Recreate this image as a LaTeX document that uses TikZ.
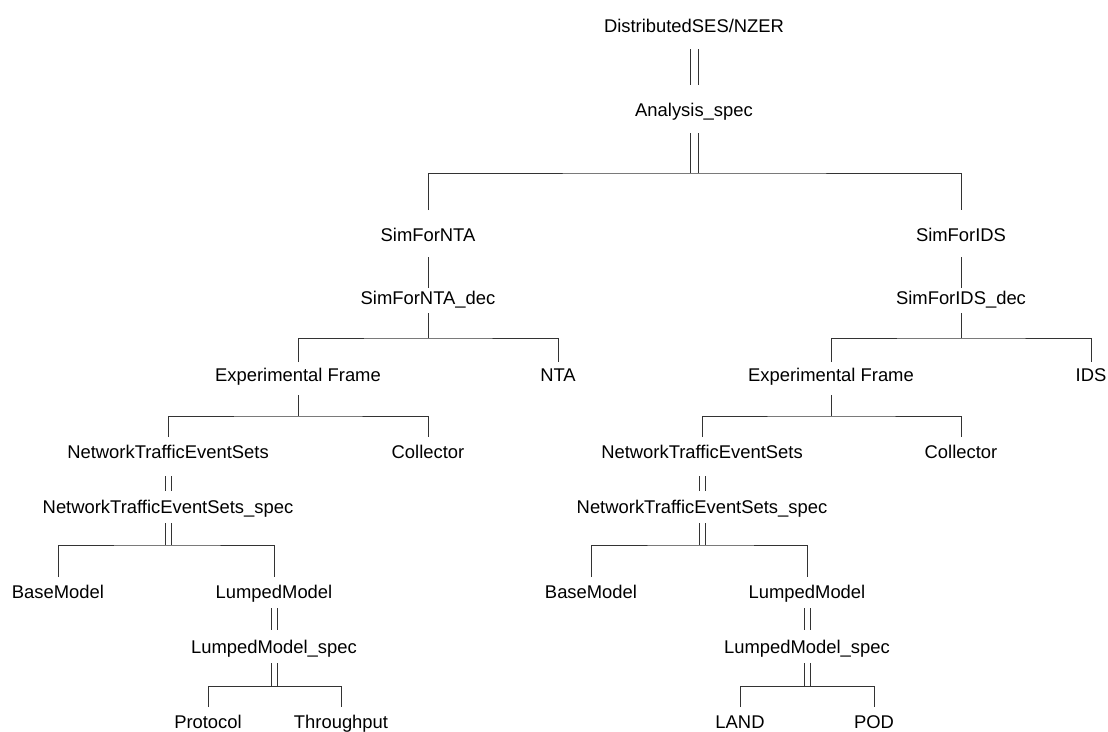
\documentclass[tikz,border=0pt]{standalone}
\usepackage{fontspec}
\setmainfont{Liberation Sans}
\begin{document}
\begin{tikzpicture}[x=1pt,y=-1pt,
  lbl/.style={inner sep=0pt, text height=13.2pt, text depth=0pt, font=\fontsize{18.4}{20}\selectfont},
  wire/.style={draw=black!80, line width=1pt},
  dbl/.style={draw=black!80, line width=1pt}]
\useasboundingbox (0,0) rectangle (1108,731);

% ---- nodes ----
\node[lbl] (root) at (694,26) {DistributedSES/NZER};
\node[lbl] (aspec) at (694,110) {Analysis\_spec};
% left branch
\node[lbl] (snta) at (428,235) {SimForNTA};
\node[lbl] (sntad) at (428,298) {SimForNTA\_dec};
\node[lbl] (efL) at (298,375) {Experimental Frame};
\node[lbl] (nta) at (558,375) {NTA};
\node[lbl] (ntesL) at (168,452) {NetworkTrafficEventSets};
\node[lbl] (colL) at (428,452) {Collector};
\node[lbl] (ntessL) at (168,507) {NetworkTrafficEventSets\_spec};
\node[lbl] (bmL) at (58,592) {BaseModel};
\node[lbl] (lmL) at (274,592) {LumpedModel};
\node[lbl] (lmsL) at (274,647) {LumpedModel\_spec};
\node[lbl] (proto) at (208,722) {Protocol};
\node[lbl] (thru) at (341,722) {Throughput};
% right branch
\node[lbl] (sids) at (961,235) {SimForIDS};
\node[lbl] (sidsd) at (961,298) {SimForIDS\_dec};
\node[lbl] (efR) at (831,375) {Experimental Frame};
\node[lbl] (ids) at (1091,375) {IDS};
\node[lbl] (ntesR) at (702,452) {NetworkTrafficEventSets};
\node[lbl] (colR) at (961,452) {Collector};
\node[lbl] (ntessR) at (702,507) {NetworkTrafficEventSets\_spec};
\node[lbl] (bmR) at (591,592) {BaseModel};
\node[lbl] (lmR) at (807,592) {LumpedModel};
\node[lbl] (lmsR) at (807,647) {LumpedModel\_spec};
\node[lbl] (land) at (740,722) {LAND};
\node[lbl] (pod) at (874,722) {POD};

% ---- branching points ----
\coordinate (bA) at (694,173);
\coordinate (bNTA) at (428,338);
\coordinate (bEFL) at (298,416);
\coordinate (bNTESL) at (168,545);
\coordinate (bLML) at (274,686);
\coordinate (bIDS) at (961,338);
\coordinate (bEFR) at (831,416);
\coordinate (bNTESR) at (702,545);
\coordinate (bLMR) at (807,686);

% ---- specialization links (double lines) ----
\foreach \s in {-4,4}{
  \draw[dbl] ([xshift=\s]root |- 0,49) -- ([xshift=\s]aspec |- 0,85);
  \draw[dbl] ([xshift=\s]aspec |- 0,133) -- ([xshift=\s]bA);
}
\foreach \s in {-3,3}{
  \draw[dbl] ([xshift=\s]ntesL |- 0,476) -- ([xshift=\s]ntessL |- 0,491);
  \draw[dbl] ([xshift=\s]ntessL |- 0,523) -- ([xshift=\s]bNTESL);
  \draw[dbl] ([xshift=\s]lmL |- 0,608) -- ([xshift=\s]lmsL |- 0,630);
  \draw[dbl] ([xshift=\s]lmsL |- 0,663) -- ([xshift=\s]bLML);
  \draw[dbl] ([xshift=\s]ntesR |- 0,476) -- ([xshift=\s]ntessR |- 0,491);
  \draw[dbl] ([xshift=\s]ntessR |- 0,523) -- ([xshift=\s]bNTESR);
  \draw[dbl] ([xshift=\s]lmR |- 0,608) -- ([xshift=\s]lmsR |- 0,630);
  \draw[dbl] ([xshift=\s]lmsR |- 0,663) -- ([xshift=\s]bLMR);
}

% ---- specialization bars ----
\draw[wire] (snta |- 0,210) |- (bA) -| (sids |- 0,210);
\draw[wire] (bmL |- 0,577) |- (bNTESL) -| (lmL |- 0,577);
\draw[wire] (proto |- 0,707) |- (bLML) -| (thru |- 0,707);
\draw[wire] (bmR |- 0,577) |- (bNTESR) -| (lmR |- 0,577);
\draw[wire] (land |- 0,707) |- (bLMR) -| (pod |- 0,707);

% ---- aspect links (single lines) ----
\draw[wire] (snta |- 0,257) -- (sntad |- 0,288);
\draw[wire] (sntad |- 0,313) -- (bNTA);
\draw[wire] (efL |- 0,362) |- (bNTA) -| (nta |- 0,362);
\draw[wire] (efL |- 0,395) -- (bEFL);
\draw[wire] (ntesL |- 0,437) |- (bEFL) -| (colL |- 0,437);

\draw[wire] (sids |- 0,257) -- (sidsd |- 0,288);
\draw[wire] (sidsd |- 0,313) -- (bIDS);
\draw[wire] (efR |- 0,362) |- (bIDS) -| (ids |- 0,362);
\draw[wire] (efR |- 0,395) -- (bEFR);
\draw[wire] (ntesR |- 0,437) |- (bEFR) -| (colR |- 0,437);
\end{tikzpicture}
\end{document}
